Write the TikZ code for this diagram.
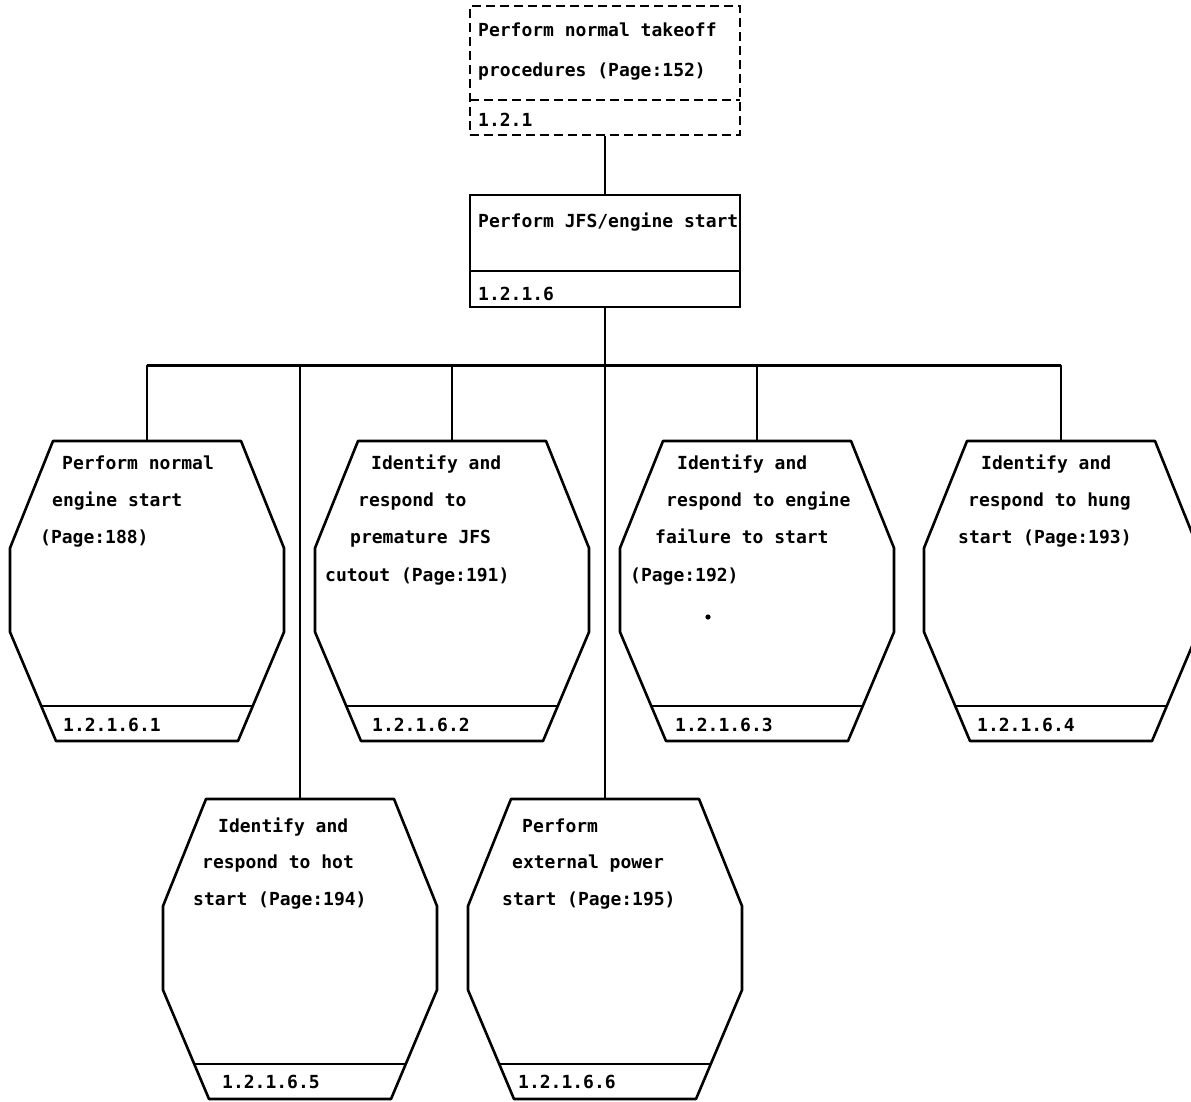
\documentclass[tikz,border=0pt]{standalone}
\usepackage{fontspec}
\newfontfamily\dmfont{DejaVu Sans Mono}
\tikzset{
  txt/.style={font=\dmfont\bfseries\fontsize{18}{22}\selectfont, anchor=base west, inner sep=0pt},
  solidbox/.style={draw, line width=2.6pt, minimum width=270pt, inner sep=0pt},
  dashbox/.style={solidbox, dash pattern=on 9pt off 5pt},
  hexline/.style={line width=2.6pt, line join=round},
  conn/.style={line width=1.1pt},
  bus/.style={line width=3pt},
}
\newcommand\hexshape[3]{%
  \coordinate (#1) at (#2,#3);
  \draw[hexline, shift={(#2,#3)}] (-94,0) -- (94,0) -- (137,107) -- (137,191)
     -- (91,300) -- (-91,300) -- (-137,191) -- (-137,107) -- cycle;
  \draw[hexline, shift={(#2,#3)}] (-106,265) -- (106,265);
}
\begin{document}
\begin{tikzpicture}[x=1pt,y=-1pt]
\useasboundingbox (0,0) rectangle (1191,1101);
\clip (0,0) rectangle (1191,1101);
\fill[white] (0,0) rectangle (1191,1101);

% top boxes
\node[dashbox, minimum height=129pt] (b0) at (605,70.5) {};
\draw[dashbox] (470,100) -- (740,100);
\node[txt] (b0a) at (478,36) {Perform normal takeoff};
\node[txt] (b0b) at (478,76) {procedures (Page:152)};
\node[txt] (b0c) at (478,126) {1.2.1};

\node[solidbox, minimum height=112pt] (b1) at (605,251) {};
\draw[solidbox] (470,271) -- (740,271);
\node[txt] (b1a) at (478,227) {Perform JFS/engine start};
\node[txt] (b1b) at (478,300) {1.2.1.6};

% hexagons
\hexshape{h1}{147}{441}
\hexshape{h2}{452}{441}
\hexshape{h3}{757}{441}
\hexshape{h4}{1061}{441}
\hexshape{h5}{300}{799}
\hexshape{h6}{605}{799}

% connectors
\coordinate (j) at (605,365);
\draw[conn] (b0.south) -- (b1.north);
\draw[conn] (b1.south) -- (j);
\draw[bus] (h1 |- j) -- (h4 |- j);
\draw[conn] (h1 |- j) -- (h1);
\draw[conn] (h2 |- j) -- (h2);
\draw[conn] (h3 |- j) -- (h3);
\draw[conn] (h4 |- j) -- (h4);
\draw[conn] (h5 |- j) -- (h5);
\draw[conn] (j) -- (h6);

% hexagon texts
\node[txt] (t1a) at (62,469) {Perform normal};
\node[txt] (t1b) at (52,506) {engine start};
\node[txt] (t1c) at (40,543) {(Page:188)};
\node[txt] (t1n) at (63,731) {1.2.1.6.1};

\node[txt] (t2a) at (371,469) {Identify and};
\node[txt] (t2b) at (358,506) {respond to};
\node[txt] (t2c) at (350,543) {premature JFS};
\node[txt] (t2d) at (325,581) {cutout (Page:191)};
\node[txt] (t2n) at (372,731) {1.2.1.6.2};

\node[txt] (t3a) at (677,469) {Identify and};
\node[txt] (t3b) at (666,506) {respond to engine};
\node[txt] (t3c) at (655,543) {failure to start};
\node[txt] (t3d) at (630,581) {(Page:192)};
\node[txt] (t3n) at (675,731) {1.2.1.6.3};
\fill (708,617) circle (2.6pt);

\node[txt] (t4a) at (981,469) {Identify and};
\node[txt] (t4b) at (968,506) {respond to hung};
\node[txt] (t4c) at (958,543) {start (Page:193)};
\node[txt] (t4n) at (977,731) {1.2.1.6.4};

\node[txt] (t5a) at (218,832) {Identify and};
\node[txt] (t5b) at (202,868) {respond to hot};
\node[txt] (t5c) at (193,905) {start (Page:194)};
\node[txt] (t5n) at (222,1088) {1.2.1.6.5};

\node[txt] (t6a) at (522,832) {Perform};
\node[txt] (t6b) at (512,868) {external power};
\node[txt] (t6c) at (502,905) {start (Page:195)};
\node[txt] (t6n) at (518,1088) {1.2.1.6.6};
\end{tikzpicture}
\end{document}
